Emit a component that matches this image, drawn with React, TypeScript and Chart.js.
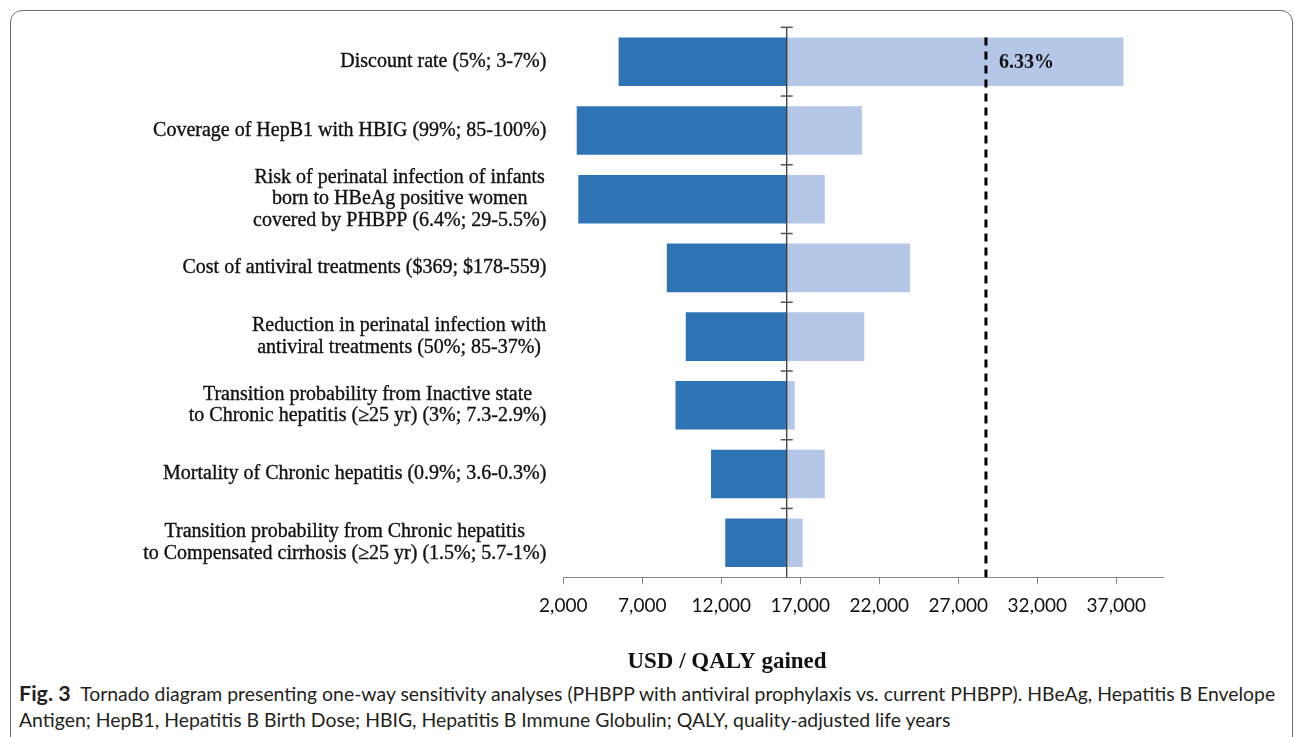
import React, { useEffect, useRef } from "react";
import { Chart, registerables } from "chart.js";

Chart.register(...registerables);

// ---------- data ----------
const categories: string[][] = [
  ["Discount rate (5%; 3-7%)"],
  ["Coverage of HepB1 with HBIG (99%; 85-100%)"],
  [
    "Risk of perinatal infection of infants",
    "born to HBeAg positive women",
    "covered by PHBPP (6.4%; 29-5.5%)",
  ],
  ["Cost of antiviral treatments ($369; $178-559)"],
  ["Reduction in perinatal infection with", "antiviral treatments (50%; 85-37%)"],
  [
    "Transition probability from Inactive state",
    "to Chronic hepatitis (\u226525 yr) (3%; 7.3-2.9%)",
  ],
  ["Mortality of Chronic hepatitis (0.9%; 3.6-0.3%)"],
  [
    "Transition probability from Chronic hepatitis",
    "to Compensated cirrhosis (\u226525 yr) (1.5%; 5.7-1%)",
  ],
];
const baseICER = 16140;
const lowValues = [5500, 2850, 2950, 8550, 9750, 9100, 11350, 12250];
const highValues = [37450, 20900, 18550, 23950, 21050, 16650, 18550, 17150];
const thresholdValue = 28750;
const thresholdLabel = "6.33%";
const xTickValues = [2000, 7000, 12000, 17000, 22000, 27000, 32000, 37000];
const xMin = 2000;
const xMax = 40000;
const xTitle = "USD / QALY gained";
const captionBold = "Fig. 3";
const captionLines = [
  "Tornado diagram presenting one-way sensitivity analyses (PHBPP with antiviral prophylaxis vs. current PHBPP). HBeAg, Hepatitis B Envelope",
  "Antigen; HepB1, Hepatitis B Birth Dose; HBIG, Hepatitis B Immune Globulin; QALY, quality-adjusted life years",
];

const DARK = "#2E74B5";
const LIGHT = "#B4C7E7";
const SERIF = "'Liberation Serif', 'Times New Roman', serif";

const tornadoPlugin = {
  id: "tornadoExtras",
  afterDatasetsDraw(chart: any) {
    const { ctx, chartArea, scales } = chart;
    const x = scales.x;
    const y = scales.y;
    const n = categories.length;
    const band = (chartArea.bottom - chartArea.top) / n;
    const bx = x.getPixelForValue(baseICER);
    ctx.save();
    // base line
    ctx.strokeStyle = "#3a3a3a";
    ctx.lineWidth = 1.3;
    ctx.beginPath();
    ctx.moveTo(bx, chartArea.top);
    ctx.lineTo(bx, chartArea.bottom);
    ctx.stroke();
    // cross ticks at category boundaries
    ctx.strokeStyle = "#555555";
    ctx.lineWidth = 1.5;
    for (let i = 0; i < n; i++) {
      const ty = y.getPixelForValue(i) - band / 2;
      ctx.beginPath();
      ctx.moveTo(bx - 6, ty);
      ctx.lineTo(bx + 6, ty);
      ctx.stroke();
    }
    // threshold dashed line
    const bar0: any = chart.getDatasetMeta(1).data[0];
    const top = bar0.y - bar0.height / 2;
    const tx = x.getPixelForValue(thresholdValue);
    ctx.strokeStyle = "#000000";
    ctx.lineWidth = 3;
    ctx.setLineDash([8, 6]);
    ctx.beginPath();
    ctx.moveTo(tx, top);
    ctx.lineTo(tx, chartArea.bottom);
    ctx.stroke();
    ctx.setLineDash([]);
    // threshold label
    ctx.fillStyle = "#111111";
    ctx.font = `bold 20px ${SERIF}`;
    ctx.textAlign = "left";
    ctx.textBaseline = "middle";
    ctx.fillText(thresholdLabel, tx + 13, y.getPixelForValue(0) + 1);
    ctx.restore();
  },
  afterDraw(chart: any) {
    const { ctx, chartArea, scales } = chart;
    const y = scales.y;
    ctx.save();
    ctx.fillStyle = "#111111";
    ctx.strokeStyle = "#111111";
    ctx.lineWidth = 0.35;
    ctx.font = `20px ${SERIF}`;
    ctx.textAlign = "center";
    ctx.textBaseline = "middle";
    const lineH = 21.7;
    const right = chartArea.left - 17;
    categories.forEach((lines, i) => {
      const widest = Math.max(...lines.map((l) => ctx.measureText(l).width));
      const cx = right - widest / 2;
      const cy = y.getPixelForValue(i);
      lines.forEach((l, k) => {
        const ly = cy + (k - (lines.length - 1) / 2) * lineH;
        ctx.fillText(l, cx, ly);
        ctx.strokeText(l, cx, ly);
      });
    });
    // axis title
    ctx.font = `bold 23px ${SERIF}`;
    ctx.fillText(xTitle, 727, 662);
    ctx.restore();
  },
};

export default function App() {
  const canvasRef = useRef<HTMLCanvasElement | null>(null);

  useEffect(() => {
    if (!canvasRef.current) return;
    const chart = new Chart(canvasRef.current, {
      type: "bar",
      data: {
        labels: categories,
        datasets: [
          {
            label: "Low",
            data: lowValues.map((v) => [v, baseICER]) as any,
            backgroundColor: DARK,
            borderWidth: 0,
            grouped: false,
            categoryPercentage: 1,
            barPercentage: 0.706,
          } as any,
          {
            label: "High",
            data: highValues.map((v) => [baseICER, v]) as any,
            backgroundColor: LIGHT,
            borderWidth: 0,
            grouped: false,
            categoryPercentage: 1,
            barPercentage: 0.706,
          } as any,
        ],
      },
      options: {
        indexAxis: "y",
        animation: false,
        responsive: true,
        maintainAspectRatio: false,
        layout: { padding: { left: 563.3, right: 131.3, top: 27.3, bottom: 53 } },
        plugins: {
          legend: { display: false },
          tooltip: { enabled: false },
          title: { display: false },
        },
        scales: {
          y: { display: false },
          x: {
            type: "linear",
            min: xMin,
            max: xMax,
            afterBuildTicks: (scale: any) => {
              scale.ticks = xTickValues.map((v) => ({ value: v }));
            },
            grid: {
              drawOnChartArea: false,
              drawTicks: true,
              tickLength: 7,
              color: "#868686",
              lineWidth: 1,
            },
            border: { display: true, color: "#868686", width: 1 },
            ticks: {
              color: "#111111",
              padding: 10,
              maxRotation: 0,
              autoSkip: false,
              font: { family: "Lato", size: 19 },
              callback: (v: any) => Number(v).toLocaleString("en-US"),
            },
          },
        },
      },
      plugins: [tornadoPlugin],
    });
    return () => chart.destroy();
  }, []);

  return (
    <div style={{ position: "fixed", left: 0, top: 0, width: 1295, height: 737, background: "#fff", overflow: "hidden" }}>
      <div
        style={{
          position: "absolute",
          left: 10,
          top: 10,
          width: 1283,
          height: 800,
          border: "1.5px solid #6e6e6e",
          borderRadius: 12,
          boxSizing: "border-box",
        }}
      />
      <div style={{ position: "absolute", left: 0, top: 0, width: 1295, height: 680 }}>
        <canvas ref={canvasRef} />
      </div>
      <div
        style={{
          position: "absolute",
          left: 19,
          top: 680,
          width: 1275,
          fontFamily: "Lato, sans-serif",
          fontSize: 19.4,
          lineHeight: "26px",
          color: "#231f20",
          whiteSpace: "nowrap",
        }}
      >
        <div>
          <b style={{ fontSize: 21.5 }}>{captionBold}</b>&nbsp;&nbsp;{captionLines[0]}
        </div>
        <div>{captionLines[1]}</div>
      </div>
    </div>
  );
}
